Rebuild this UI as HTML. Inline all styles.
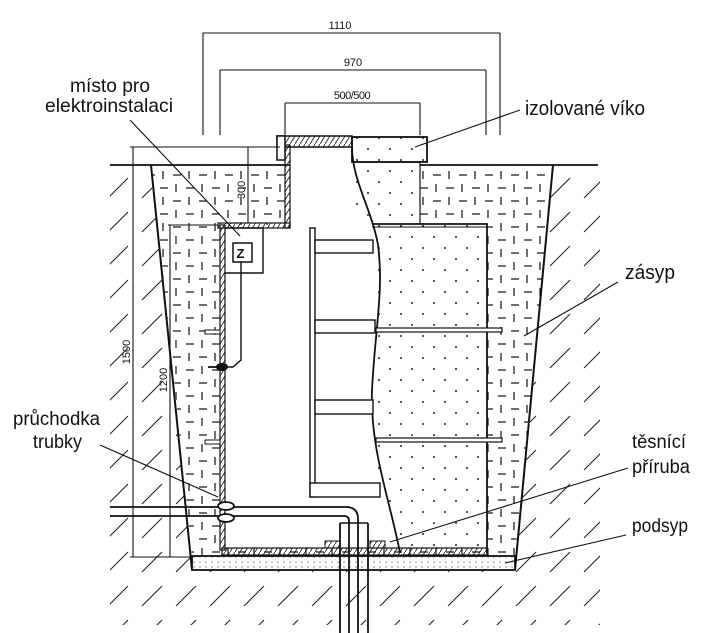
<!DOCTYPE html>
<html><head><meta charset="utf-8"><style>
html,body{margin:0;padding:0;background:#fff;}
svg{display:block;}
text{font-family:"Liberation Sans",Arial,sans-serif;fill:#111;}
</style></head><body>
<svg width="704" height="633" viewBox="0 0 704 633" xmlns="http://www.w3.org/2000/svg">
<defs>
<pattern id="hatch" width="34" height="34" patternUnits="userSpaceOnUse">
<line x1="6" y1="28" x2="26" y2="8" stroke="#222" stroke-width="1.1"/>
</pattern>
<pattern id="dash" width="26" height="26" patternUnits="userSpaceOnUse">
<line x1="4" y1="6" x2="12" y2="6" stroke="#222" stroke-width="1.3"/>
<line x1="20" y1="2" x2="20" y2="10" stroke="#222" stroke-width="1.3"/>
<line x1="17" y1="19" x2="25" y2="19" stroke="#222" stroke-width="1.3"/>
<line x1="7" y1="15" x2="7" y2="23" stroke="#222" stroke-width="1.3"/>
</pattern>
<pattern id="dots" width="22" height="22" patternUnits="userSpaceOnUse">
<circle cx="5" cy="6" r="1" fill="#222"/><circle cx="16" cy="17" r="1" fill="#222"/>
</pattern>
<pattern id="fine" width="6" height="5" patternUnits="userSpaceOnUse">
<circle cx="2" cy="2" r="0.6" fill="#333"/>
</pattern>
<pattern id="slash" width="5" height="8" patternUnits="userSpaceOnUse">
<line x1="0" y1="8" x2="5" y2="0" stroke="#222" stroke-width="0.9"/>
</pattern>
</defs>

<polygon points="110,166 150,166 192,570 515,570 553,166 600,166 600,625 110,625" fill="url(#hatch)"/>
<line x1="110" y1="165" x2="598" y2="165" stroke="#111" stroke-width="1.8"/>

<polygon points="152,165 553,165 515,556 192,556" fill="url(#dash)"/>
<polygon points="222,225 290,225 290,147 352,147 352,162 420,162 420,224 487,224 487,548 222,548" fill="#fff"/>
<rect x="352" y="162" width="68" height="62" fill="url(#dots)"/>
<path d="M352,162 L420,162 L420,224" fill="none" stroke="#111" stroke-width="1.2"/>
<path d="M370,224 L487,224 L487,548 L400,548 C390,500 370,470 372,420 C374,360 385,290 370,224 Z" fill="url(#dots)"/>
<path d="M372,224 L487,224 L487,553" fill="none" stroke="#111" stroke-width="1.8"/>
<line x1="372" y1="227" x2="487" y2="227" stroke="#111" stroke-width="1"/>

<line x1="151" y1="165" x2="192" y2="570" stroke="#111" stroke-width="2"/>
<line x1="553" y1="165" x2="515" y2="570" stroke="#111" stroke-width="2"/>

<rect x="192" y="556" width="323" height="14" fill="#fff" stroke="#111" stroke-width="1.8"/>
<rect x="193" y="557" width="321" height="12" fill="url(#fine)"/>

<rect x="220" y="225" width="5" height="325" fill="url(#slash)" stroke="#111" stroke-width="1.2"/>
<rect x="218" y="223" width="72" height="5" fill="url(#slash)" stroke="#111" stroke-width="1.2"/>
<rect x="285" y="145" width="5" height="83" fill="url(#slash)" stroke="#111" stroke-width="1.2"/>
<rect x="222" y="548" width="265" height="7" fill="url(#slash)" stroke="#111" stroke-width="1.2"/>
<rect x="277" y="136" width="75" height="11" fill="url(#slash)" stroke="#111" stroke-width="1.5"/>
<rect x="277" y="136" width="8" height="24" fill="#fff" stroke="#111" stroke-width="1.5"/>
<rect x="352" y="137" width="75" height="25" fill="url(#dots)" stroke="#111" stroke-width="1.8"/>

<path d="M352,147 C352,180 372,210 378,245 C384,290 375,330 372,390 C370,450 390,500 400,553" fill="none" stroke="#111" stroke-width="1.8"/>

<rect x="310" y="228" width="5" height="269" fill="#fff" stroke="#111" stroke-width="1.4"/>
<rect x="315" y="240" width="58" height="13" fill="#fff" stroke="#111" stroke-width="1.4"/>
<rect x="315" y="320" width="60" height="13" fill="#fff" stroke="#111" stroke-width="1.4"/>
<rect x="315" y="400" width="58" height="14" fill="#fff" stroke="#111" stroke-width="1.4"/>
<rect x="310" y="483" width="70" height="14" fill="#fff" stroke="#111" stroke-width="1.4"/>
<rect x="376" y="328" width="126" height="4" fill="#fff" stroke="#111" stroke-width="1.2"/>
<rect x="376" y="438" width="126" height="4" fill="#fff" stroke="#111" stroke-width="1.2"/>

<path d="M225,228 L263,228 L263,273 L225,273" fill="none" stroke="#111" stroke-width="1.4"/>
<rect x="233" y="243" width="19" height="19" fill="#fff" stroke="#111" stroke-width="1.5"/>
<text x="236.5" y="258" font-size="13" font-weight="bold">Z</text>
<path d="M241,262 L241,360 L233,367 L225,367" fill="none" stroke="#111" stroke-width="1.4"/>
<ellipse cx="222" cy="367" rx="6" ry="4" fill="#111"/>
<line x1="208" y1="367" x2="222" y2="367" stroke="#111" stroke-width="1.8"/>
<rect x="205" y="330" width="15" height="4" fill="#fff" stroke="#111"/>
<rect x="205" y="440" width="15" height="4" fill="#fff" stroke="#111"/>

<path d="M110,507 L346,507 Q358,507 358,519 L358,633" fill="none" stroke="#111" stroke-width="1.8"/>
<path d="M110,516 L344,516 Q349,516 349,521 L349,633" fill="none" stroke="#111" stroke-width="1.8"/>
<line x1="340" y1="523" x2="340" y2="633" stroke="#111" stroke-width="1.8"/>
<line x1="368" y1="523" x2="368" y2="633" stroke="#111" stroke-width="1.8"/>
<line x1="340" y1="523" x2="368" y2="523" stroke="#111" stroke-width="1.4"/>
<ellipse cx="226" cy="506" rx="8" ry="4" fill="#fff" stroke="#111" stroke-width="1.8"/>
<ellipse cx="226" cy="518" rx="8" ry="4" fill="#fff" stroke="#111" stroke-width="1.8"/>
<rect x="325" y="541" width="15" height="7" fill="url(#slash)" stroke="#111"/>
<rect x="370" y="541" width="15" height="7" fill="url(#slash)" stroke="#111"/>

<g stroke="#111" stroke-width="1.1" fill="none">
<line x1="203" y1="33" x2="500" y2="33"/>
<line x1="203" y1="33" x2="203" y2="135"/><line x1="500" y1="33" x2="500" y2="135"/>
<line x1="220" y1="70" x2="486" y2="70"/>
<line x1="220" y1="70" x2="220" y2="135"/><line x1="486" y1="70" x2="486" y2="135"/>
<line x1="285" y1="103" x2="420" y2="103"/>
<line x1="285" y1="103" x2="285" y2="135"/><line x1="420" y1="103" x2="420" y2="135"/>
<line x1="130" y1="147" x2="280" y2="147"/>
<line x1="133" y1="147" x2="133" y2="557"/>
<line x1="130" y1="557" x2="192" y2="557"/>
<line x1="168" y1="225" x2="218" y2="225"/>
<line x1="170" y1="225" x2="170" y2="557"/>
<line x1="248" y1="147" x2="248" y2="223"/>
</g>
<text x="340" y="29" font-size="11" text-anchor="middle">1110</text>
<text x="353" y="66" font-size="11" text-anchor="middle">970</text>
<text x="352" y="99" font-size="11" text-anchor="middle" letter-spacing="-0.5">500/500</text>
<text transform="translate(245,190) rotate(-90)" font-size="11" text-anchor="middle">300</text>
<text transform="translate(130,352) rotate(-90)" font-size="11" text-anchor="middle">1500</text>
<text transform="translate(167,380) rotate(-90)" font-size="11" text-anchor="middle">1200</text>

<g stroke="#111" stroke-width="1.1" fill="none">
<line x1="130" y1="120" x2="240" y2="236"/>
<line x1="520" y1="110" x2="415" y2="147"/>
<line x1="618" y1="282" x2="524" y2="336"/>
<line x1="100" y1="445" x2="218" y2="497"/>
<line x1="628" y1="468" x2="390" y2="542"/>
<line x1="626" y1="535" x2="505" y2="563"/>
</g>

<text x="70" y="92" font-size="19.5" textLength="80" lengthAdjust="spacingAndGlyphs">místo pro</text>
<text x="45" y="112" font-size="19.5" textLength="128" lengthAdjust="spacingAndGlyphs">elektroinstalaci</text>
<text x="525" y="115" font-size="20" textLength="120" lengthAdjust="spacingAndGlyphs">izolované víko</text>
<text x="625" y="279" font-size="20" textLength="50" lengthAdjust="spacingAndGlyphs">zásyp</text>
<text x="13" y="425" font-size="19.5" textLength="87" lengthAdjust="spacingAndGlyphs">průchodka</text>
<text x="33" y="448" font-size="19.5" textLength="49" lengthAdjust="spacingAndGlyphs">trubky</text>
<text x="632" y="448" font-size="19.5" textLength="54" lengthAdjust="spacingAndGlyphs">těsnící</text>
<text x="632" y="473" font-size="19.5" textLength="58" lengthAdjust="spacingAndGlyphs">příruba</text>
<text x="632" y="532" font-size="19.5" textLength="56" lengthAdjust="spacingAndGlyphs">podsyp</text>
</svg>
</body></html>
